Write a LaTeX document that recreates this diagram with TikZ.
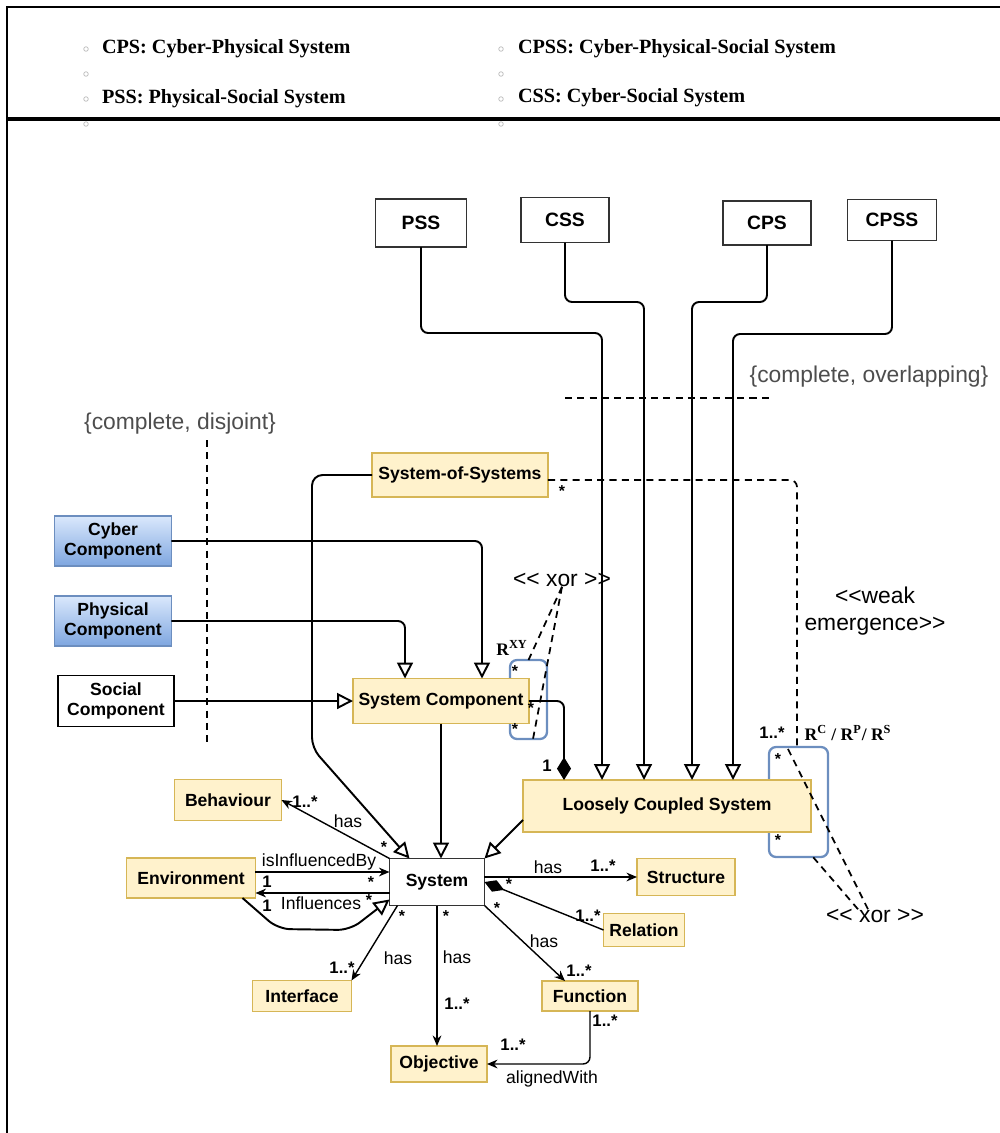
\documentclass[tikz,border=0pt]{standalone}
\usepackage{fontspec}
\setmainfont[Ligatures=TeXOff]{Liberation Sans}
\newfontfamily\serifb[Ligatures=TeXOff]{Liberation Serif}
\usetikzlibrary{arrows.meta}
\definecolor{yfill}{HTML}{FFF2CC}
\definecolor{ydraw}{HTML}{D6B656}
\definecolor{bdraw}{HTML}{6C8EBF}
\definecolor{btop}{HTML}{DAE8FC}
\definecolor{bbot}{HTML}{7EA6E0}
\definecolor{gtext}{HTML}{4D4D4D}
\definecolor{boxline}{HTML}{333333}
\definecolor{bulc}{HTML}{BBBBBB}
\begin{document}
\begin{tikzpicture}[x=0.02cm,y=-0.02cm,
  every node/.style={inner sep=0pt, outer sep=0pt},
  boxfont/.style={font=\bfseries\fontsize{10}{11.5}\selectfont, align=center},
  ybox/.style={boxfont, draw=ydraw, fill=yfill, line width=1.1pt},
  wbox/.style={boxfont, draw=boxline, fill=white, line width=1.1pt},
  topbox/.style={wbox, font=\bfseries\fontsize{11}{13}\selectfont},
  bbox/.style={boxfont, draw=bdraw, top color=btop, bottom color=bbot, line width=1.1pt},
  brect/.style={draw=bdraw, line width=1.3pt, rounded corners=4pt},
  gen/.style={line width=1.1pt, rounded corners=4pt, -{Triangle[length=9pt,width=9pt,fill=white]}},
  assoc/.style={line width=0.8pt, -{Stealth[length=6pt,width=5pt]}},
  dsh/.style={line width=1pt, dash pattern=on 4pt off 3pt},
  mult/.style={font=\bfseries\fontsize{9.5}{11}\selectfont},
  star/.style={font=\bfseries\fontsize{9}{10}\selectfont},
  lbl/.style={font=\fontsize{10}{12}\selectfont},
  big/.style={font=\fontsize{13}{15.5}\selectfont, align=center},
  cons/.style={font=\fontsize{13}{15}\selectfont, text=gtext},
  legend/.style={font=\serifb\bfseries\fontsize{11.5}{13}\selectfont, anchor=west},
  rlab/.style={font=\serifb\bfseries\fontsize{10}{11}\selectfont},
  bul/.style={draw=bulc, line width=0.4pt}
]
\useasboundingbox (0,0) rectangle (1000,1133);
% frame
\draw[line width=1.2pt] (1000,7) -- (7,7) -- (7,1133);
\draw[line width=2.4pt] (7,119) -- (1000,119);
% legend
\foreach \yy in {49,74,99,124} {
  \draw[bul] (86,\yy) circle[radius=1.3pt];
  \draw[bul] (501,\yy) circle[radius=1.3pt];
}
\node[legend] (lg1) at (102,49) {CPS: Cyber-Physical System};
\node[legend] (lg2) at (102,99) {PSS: Physical-Social System};
\node[legend] (lg3) at (518,49) {CPSS: Cyber-Physical-Social System};
\node[legend] (lg4) at (518,98) {CSS: Cyber-Social System};

% blue rounded rectangles (behind boxes)
\node[brect, minimum width=1.18cm, minimum height=2.2cm] (rcps) at (798.5,802) {};
\node[brect, minimum width=0.74cm, minimum height=1.58cm] (rxy) at (528.5,699.5) {};

% boxes
\node[topbox, minimum width=1.82cm, minimum height=0.96cm] (pss) at (421,223) {PSS};
\node[topbox, minimum width=1.76cm, minimum height=0.9cm] (css) at (565,220) {CSS};
\node[topbox, minimum width=1.76cm, minimum height=0.88cm] (cps) at (767,223) {CPS};
\node[topbox, minimum width=1.78cm, minimum height=0.82cm] (cpss) at (892,220) {CPSS};
\node[ybox, minimum width=3.52cm, minimum height=0.88cm] (sos) at (460,475) {System-of-Systems};
\node[bbox, minimum width=2.34cm, minimum height=1.0cm] (cyber) at (113,541) {Cyber\\Component};
\node[bbox, minimum width=2.34cm, minimum height=1.0cm] (phys) at (113,621) {Physical\\Component};
\node[wbox, draw=black, minimum width=2.32cm, minimum height=1.02cm] (social) at (116,701) {Social\\Component};
\node[ybox, minimum width=3.52cm, minimum height=0.9cm] (sc) at (441,701) {System Component};
\node[ybox, minimum width=5.76cm, minimum height=1.04cm] (lcs) at (667,806) {Loosely Coupled System};
\node[wbox, minimum width=1.9cm, minimum height=0.94cm] (sys) at (437,882) {System};
\node[ybox, minimum width=2.14cm, minimum height=0.82cm] (beh) at (228,800) {Behaviour};
\node[ybox, minimum width=2.58cm, minimum height=0.8cm] (env) at (191,878) {Environment};
\node[ybox, minimum width=1.96cm, minimum height=0.74cm] (struct) at (686,877) {Structure};
\node[ybox, minimum width=1.62cm, minimum height=0.66cm] (rel) at (644,930) {Relation};
\node[ybox, minimum width=1.92cm, minimum height=0.6cm] (func) at (590,996) {Function};
\node[ybox, minimum width=1.92cm, minimum height=0.72cm] (obj) at (439,1064) {Objective};
\node[ybox, minimum width=1.98cm, minimum height=0.62cm] (intf) at (302,996) {Interface};

% free texts
\node[cons] (ovl) at (869,377) {\{complete, overlapping\}};
\node[cons] (dis) at (180,424) {\{complete, disjoint\}};
\node[big] (weak) at (875,611) {<<weak\\emergence>>};
\node[big] (xor1) at (562,580) {<< xor >>};
\node[big] (xor2) at (875,916) {<< xor >>};
\node[rlab] (rxyl) at (512,648) {R\textsuperscript{XY}};
\node[rlab] (rcpsl) at (848,733) {R\textsuperscript{C} / R\textsuperscript{P}/ R\textsuperscript{S}};

% generalization set markers
\coordinate (gsA) at (565,398); \coordinate (gsB) at (773,398);
\draw[dsh] (gsA) -- (gsB);
\coordinate (djA) at (207,440); \coordinate (djB) at (207,745);
\draw[dsh] (djA) -- (djB);

% top systems -> loosely coupled system
\coordinate (k1) at (602,333); \coordinate (k2) at (644,302);
\coordinate (k3) at (692,302); \coordinate (k4) at (733,334);
\draw[gen] (pss.south) |- (k1) -- (k1 |- lcs.north);
\draw[gen] (css.south) |- (k2) -- (k2 |- lcs.north);
\draw[gen] (cps.south) |- (k3) -- (k3 |- lcs.north);
\draw[gen] (cpss.south) |- (k4) -- (k4 |- lcs.north);

% components -> system component
\draw[gen] (cyber.east) -| ([xshift=0.82cm]sc.north);
\draw[gen] (phys.east) -| ([xshift=-0.72cm]sc.north);
\draw[gen] (social.east) -- (sc.west);
\draw[gen] (sc.south) -- (sc.south |- sys.north);
\draw[line width=1.1pt, rounded corners=4pt, -{Diamond[length=13pt,width=8pt]}] (sc.east) -| ([xshift=-2.06cm]lcs.north);
\draw[gen] ([yshift=0.24cm]lcs.south west) -- (sys.north east);

% system of systems
\coordinate (sosA) at (312,475); \coordinate (sosB) at (312,748);
\draw[gen, rounded corners=6pt] (sos.west) -- (sosA) -- (sosB) -- ([xshift=0.4cm]sys.north west);
\coordinate (sosD) at (797,480);
\draw[dsh, rounded corners=4pt] ([yshift=-0.1cm]sos.east) -- (sosD) -- (sosD |- rcps.north);

% xor constraints
\draw[dsh] (xor1.south) -- (rxy.north);
\draw[dsh] (xor1.south) -- ([xshift=0.09cm]rxy.south);
\draw[dsh] ([xshift=-0.14cm]xor2.north) -- ([xshift=-0.23cm]rcps.north);
\draw[dsh] ([xshift=-0.34cm]xor2.north) -- ([xshift=0.29cm]rcps.south);

% system associations
\draw[assoc] (sys.north west) -- (beh.east);
\draw[assoc] (env.east |- 0,872) -- (sys.west |- 0,872);
\draw[assoc] (sys.west |- 0,893) -- (env.east |- 0,893);
\coordinate (eg1) at (278,929); \coordinate (eg2) at (350,930);
\draw[gen, rounded corners=7pt] ([xshift=-0.26cm]env.south east) -- (eg1) -- (eg2) -- ([yshift=0.12cm]sys.south west);
\draw[assoc] (sys.east |- struct.west) -- (struct.west);
\draw[line width=0.8pt, -{Diamond[length=12pt,width=7pt]}] (rel.west) -- (sys.east);
\draw[assoc] (sys.south east) -- ([xshift=-0.5cm]func.north);
\draw[assoc] (sys.south) -- (sys.south |- obj.north);
\draw[assoc, rounded corners=4pt] (func.south) |- (obj.east);
\draw[assoc] ([xshift=0.16cm]sys.south west) -- (intf.north east);

% multiplicities and labels
\node[star] (s1) at (562,491) {*};
\node[mult] (m1) at (772,733) {1..*};
\node[star] (s2) at (778,759) {*};
\node[star] (s3) at (778,840) {*};
\node[star] (s4) at (515,671) {*};
\node[star] (s5) at (531,708) {*};
\node[star] (s6) at (515,729) {*};
\node[mult] (one1) at (547,766) {1};
\node[mult] (m2) at (305,802) {1..*};
\node[lbl] (h1) at (348,821) {has};
\node[star] (s7) at (384,847) {*};
\node[lbl] (ib) at (319,862) {isInfluencedBy};
\node[star] (s8) at (371,882) {*};
\node[mult] (one2) at (267,882) {1};
\node[lbl] (inf) at (321,903) {Influences};
\node[star] (s9) at (369,900) {*};
\node[mult] (one3) at (267,906) {1};
\node[lbl] (h2) at (548,867) {has};
\node[mult] (m3) at (603,866) {1..*};
\node[star] (s10) at (509,884) {*};
\node[mult] (m4) at (588,916) {1..*};
\node[star] (s11) at (497,908) {*};
\node[lbl] (h3) at (544,941) {has};
\node[mult] (m5) at (579,971) {1..*};
\node[star] (s12) at (446,916) {*};
\node[lbl] (h4) at (457,957) {has};
\node[mult] (m6) at (457,1004) {1..*};
\node[mult] (m7) at (605,1021) {1..*};
\node[mult] (m8) at (513,1045) {1..*};
\node[lbl] (aw) at (552,1079) {alignedWith};
\node[star] (s13) at (402,916) {*};
\node[lbl] (h5) at (398,958) {has};
\node[mult] (m9) at (342,968) {1..*};
\end{tikzpicture}
\end{document}
